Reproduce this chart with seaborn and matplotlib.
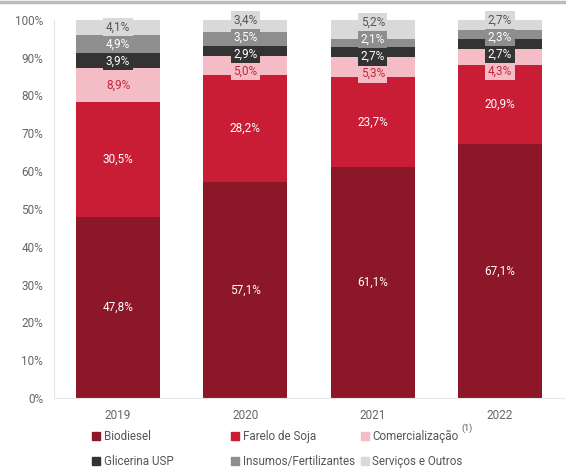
import numpy as np
import matplotlib.pyplot as plt
import matplotlib.patches as mpatches
from matplotlib.lines import Line2D
from matplotlib.text import Annotation
import seaborn as sns

years = ['2019', '2020', '2021', '2022']
series = ['Biodiesel', 'Farelo de Soja', 'Comercialização', 'Glicerina USP',
          'Insumos/Fertilizantes', 'Serviços e Outros']
biodiesel = [47.8, 57.1, 61.1, 67.1]
farelo = [30.5, 28.2, 23.7, 20.9]
comerc = [8.9, 5.0, 5.3, 4.3]
glicerina = [3.9, 2.9, 2.7, 2.7]
insumos = [4.9, 3.5, 2.1, 2.3]
servicos = [4.1, 3.4, 5.2, 2.7]
values = [biodiesel, farelo, comerc, glicerina, insumos, servicos]

colors = ['#8b1729', '#c91d36', '#f4bcc5', '#333333', '#8e8e8e', '#d9d9d9']
txt_colors = ['white', 'white', '#c0283d', 'white', 'white', '#555555']

sns.set_style('white')
plt.rcParams['font.family'] = ['Roboto', 'DejaVu Sans']

fig = plt.figure(figsize=(5.66, 4.71), dpi=100)
ax = fig.add_axes([0.096, 0.155, 0.9, 0.803])

bottom = np.zeros(len(years))
centers = []
for vals, c in zip(values, colors):
    sns.barplot(x=years, y=vals, bottom=bottom, color=c, width=0.66,
                errorbar=None, ax=ax, saturation=1, linewidth=0)
    centers.append(bottom + np.array(vals) / 2)
    bottom += np.array(vals)
centers = np.array(centers)

# spread the small top labels apart so they do not overlap
gap = 4.5
pos = centers.copy()
for i in range(len(years)):
    p = pos[2:, i].copy()
    for _ in range(300):
        for k in range(len(p) - 1):
            d = p[k + 1] - p[k]
            if d < gap:
                p[k] -= (gap - d) / 2
                p[k + 1] += (gap - d) / 2
        p[-1] = min(p[-1], 100)
    pos[2:, i] = p

for j, (name, vals, c, tc) in enumerate(zip(series, values, colors, txt_colors)):
    for i, v in enumerate(vals):
        lbl = f'{v:.1f}%'.replace('.', ',')
        box = None
        if j >= 2:
            box = dict(boxstyle='square,pad=0.22', fc=c, ec='none')
        ax.text(i, pos[j, i], lbl, ha='center', va='center',
                fontsize=8.5, color=tc, bbox=box, clip_on=False)

ax.set_ylim(0, 100)
ax.set_xlim(-0.5, 3.5)
ax.set_yticks(range(0, 101, 10))
ax.set_yticklabels([f'{t}%' for t in range(0, 101, 10)])
ax.tick_params(axis='both', labelsize=8.5, colors='#666666', length=0, pad=8)
ax.set_xlabel('')
ax.set_ylabel('')
for s in ['top', 'right']:
    ax.spines[s].set_visible(False)
for s in ['left', 'bottom']:
    ax.spines[s].set_color('#e6e6e6')
    ax.spines[s].set_linewidth(0.8)

handles = [mpatches.Patch(color=c, label=l) for c, l in zip(colors, series)]
# one legend per column so the columns sit where the reference has them
col_x = [0.163, 0.408, 0.637]
legs = []
for k, x in enumerate(col_x):
    idx = [k, k + 3]
    leg = fig.legend([handles[i] for i in idx], [series[i] for i in idx],
                     loc='upper left', bbox_to_anchor=(x, 0.087), ncol=1,
                     frameon=False, fontsize=8.4, labelcolor='#555555',
                     handlelength=0.7, handleheight=0.7, handletextpad=0.3,
                     labelspacing=1.0, borderaxespad=0, borderpad=0)
    legs.append(leg)

# footnote mark after "Comercialização" (drawn after the legends)
t = legs[2].get_texts()[0]
note = Annotation('(1)', xy=(1, 0.8), xycoords=t, xytext=(2, 0),
                  textcoords='offset points', fontsize=6.5, color='#555555',
                  ha='left', va='bottom', annotation_clip=False, zorder=10)
fig.add_artist(note)

fig.add_artist(Line2D([0, 1], [0.995, 0.995], color='#bbbbbb', lw=2.5))

fig.savefig('out.png', dpi=100)
